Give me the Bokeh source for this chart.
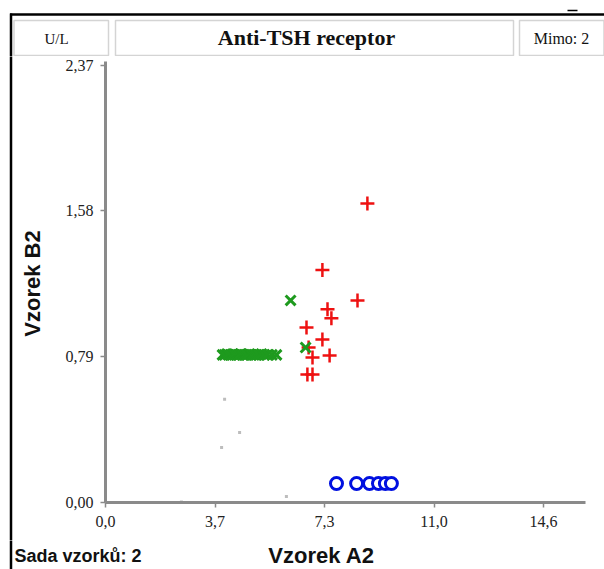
import math
from bokeh.plotting import figure
from bokeh.layouts import column, row
from bokeh.models import Range1d, FixedTicker, Plot
from bokeh.embed import file_html
from bokeh.resources import INLINE
from bokeh.core.properties import value

# ---------------- data ----------------
x_ticks = [0.0, 3.65, 7.3, 10.95, 14.6]
x_tick_labels = ["0,0", "3,7", "7,3", "11,0", "14,6"]
y_ticks = [0.0, 0.79, 1.58, 2.37]
y_tick_labels = ["0,00", "0,79", "1,58", "2,37"]

red_x = [8.73, 7.23, 8.40, 7.40, 7.53, 6.70, 7.23, 6.77, 6.90, 7.47, 6.73, 6.90]
red_y = [1.62, 1.26, 1.095, 1.047, 0.998, 0.949, 0.884, 0.84, 0.786, 0.797, 0.694, 0.694]

green_x = [6.17, 6.67, 3.90, 3.97, 4.05, 4.10, 4.18, 4.25, 4.30, 4.38, 4.45, 4.50,
           4.58, 4.65, 4.72, 4.80, 4.87, 4.95, 5.02, 5.10, 5.20, 5.30, 5.40, 5.55, 5.70]
green_y = [1.095, 0.84, 0.80, 0.80, 0.805, 0.80, 0.80, 0.805, 0.80, 0.80, 0.80, 0.805,
           0.80, 0.80, 0.80, 0.805, 0.80, 0.80, 0.80, 0.80, 0.805, 0.80, 0.80, 0.80, 0.80]

blue_x = [7.70, 8.37, 8.80, 9.10, 9.33, 9.53]
blue_y = [0.103, 0.103, 0.103, 0.103, 0.103, 0.103]

gray_x = [3.97, 4.47, 3.87, 6.03, 2.53]
gray_y = [0.559, 0.38, 0.298, 0.033, 0.003]

title_text = "Anti-TSH receptor"
unit_text = "U/L"
outside_text = "Mimo: 2"
set_text = "Sada vzorků: 2"
x_label = "Vzorek A2"
y_label = "Vzorek B2"

SERIF = value("Liberation Serif")
SANS = value("Liberation Sans")
HAS_FRAME_ALIGN = "frame_align" in Plot.properties()


def deco(width, height, x0, y0):
    """A plain figure whose data coordinates equal page pixels."""
    f = figure(width=width, height=height, x_range=Range1d(x0, x0 + width),
               y_range=Range1d(y0 + height, y0), x_axis_type=None, y_axis_type=None,
               toolbar_location=None, output_backend="svg", min_border=0)
    f.outline_line_color = None
    f.grid.visible = False
    if HAS_FRAME_ALIGN:
        f.frame_align = False
    return f


# ---------------- header ----------------
hdr = deco(604, 56, 0, 0)
hdr.segment(x0=[9.5, 10.5, 567], y0=[14, 13, 10], x1=[604, 10.5, 577], y1=[14, 70, 10],
            line_color="black", line_width=[2.5, 2.5, 1.5])
hdr.quad(left=[13.5, 115, 519], right=[108, 513, 603.5], top=[20, 20, 20], bottom=[55, 55, 55],
         fill_color=None, line_color="#d4d4d4", line_width=1.5)
hdr.text(x=[56, 306, 561], y=[38, 37, 38], text=[unit_text, title_text, outside_text],
         text_font=SERIF, text_font_size=["15px", "22px", "16px"],
         text_font_style=["normal", "bold", "normal"], text_color="#111111",
         text_align="center", text_baseline="middle")

# ---------------- left strip (y label) ----------------
strip = deco(50, 484, 0, 56)
strip.segment(x0=[10.5], y0=[40], x1=[10.5], y1=[560], line_color="black", line_width=2.5)
strip.text(x=[32], y=[283], text=[y_label], angle=math.pi / 2,
           text_font=SANS, text_font_size="22px", text_font_style="bold",
           text_color="#111111", text_align="center", text_baseline="middle")

# ---------------- footer (x label, set text) ----------------
foot = deco(604, 29, 0, 540)
foot.segment(x0=[10.5], y0=[520], x1=[10.5], y1=[580], line_color="black", line_width=2.5)
foot.text(x=[321], y=[555], text=[x_label], text_font=SANS, text_font_size="22px",
          text_font_style="bold", text_color="#111111", text_align="center",
          text_baseline="middle")
foot.text(x=[14], y=[555], text=[set_text], text_font=SANS, text_font_size="18px",
          text_font_style="bold", text_color="#111111", text_align="left",
          text_baseline="middle")

# ---------------- main plot ----------------
p = figure(width=554, height=484, x_range=Range1d(0, 16), y_range=Range1d(0, 2.39),
           toolbar_location=None, output_backend="svg",
           min_border_left=55, min_border_right=19, min_border_top=5, min_border_bottom=38)
p.outline_line_color = None
p.grid.visible = False

for ax, ticks, labels in ((p.xaxis[0], x_ticks, x_tick_labels), (p.yaxis[0], y_ticks, y_tick_labels)):
    ax.ticker = FixedTicker(ticks=ticks)
    ax.major_label_overrides = {t: l for t, l in zip(ticks, labels)}
    ax.axis_line_color = "#8a8a8a"
    ax.axis_line_width = 3
    ax.major_tick_line_color = "#8a8a8a"
    ax.major_tick_line_width = 1.5
    ax.major_tick_out = 5
    ax.major_tick_in = 0
    ax.minor_tick_line_color = None
    ax.major_label_text_font = "Liberation Serif"
    ax.major_label_text_font_size = "16px"
    ax.major_label_text_color = "#222222"
p.yaxis.major_label_standoff = 7
p.xaxis.major_label_standoff = 8

p.scatter(gray_x, gray_y, marker="square", size=3, fill_color="#bdbdbd", line_color=None)
p.scatter(blue_x, blue_y, marker="circle", size=12, fill_color="white",
          line_color="#0010e0", line_width=3)
p.scatter(red_x, red_y, marker="cross", size=14, line_color="#ee1111", line_width=2.5)
p.scatter(green_x, green_y, marker="x", size=14, line_color="#1e9a1e", line_width=3)

layout = column(hdr, row(strip, p), foot)
open("out.html", "w").write(file_html(layout, INLINE))
